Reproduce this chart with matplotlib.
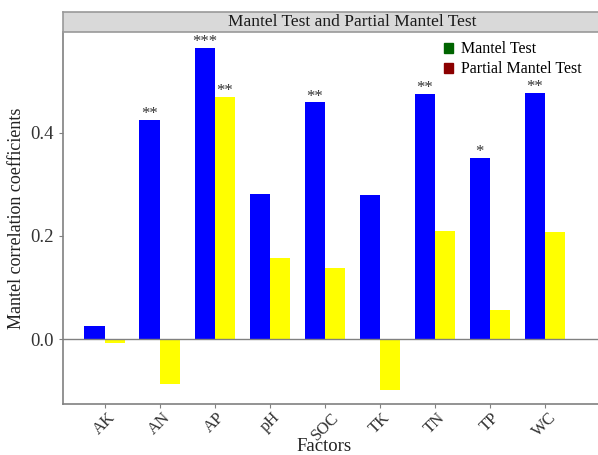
import numpy as np
import matplotlib.pyplot as plt
from matplotlib.patches import Patch

plt.rcParams['font.family'] = ['Liberation Serif', 'DejaVu Serif']

factors = ['AK', 'AN', 'AP', 'pH', 'SOC', 'TK', 'TN', 'TP', 'WC']
mantel = [0.025, 0.425, 0.565, 0.281, 0.459, 0.280, 0.476, 0.351, 0.478]
partial = [-0.008, -0.088, 0.470, 0.158, 0.138, -0.099, 0.210, 0.057, 0.208]
mantel_sig = ['', '**', '***', '', '**', '', '**', '*', '**']
partial_sig = ['', '', '**', '', '', '', '', '', '']

fig = plt.figure(figsize=(5.98, 4.55), dpi=100)
# panel runs past the right edge (the reference is cropped there)
ax = fig.add_axes([0.105, 0.112, 0.967, 0.818])

x = np.arange(len(factors))
w = 0.37
ax.bar(x - w/2, mantel, w, color='#0000ff', edgecolor='none')
ax.bar(x + w/2, partial, w, color='#ffff00', edgecolor='none')
ax.axhline(0, color='#808080', lw=1)

for i in range(len(factors)):
    if mantel_sig[i]:
        ax.text(x[i] - w/2, mantel[i] - 0.004, mantel_sig[i], ha='center', va='bottom',
                fontsize=12, color='#333333')
    if partial_sig[i]:
        ax.text(x[i] + w/2, partial[i] - 0.004, partial_sig[i], ha='center', va='bottom',
                fontsize=12, color='#333333')

ax.set_xlim(-0.764, 9.745)
ax.set_ylim(-0.126, 0.596)
ax.set_yticks([0.0, 0.2, 0.4])
ax.set_yticklabels(['0.0', '0.2', '0.4'])
ax.set_xticks(x)
ax.set_xticklabels(factors, rotation=45, ha='center', va='top')
ax.tick_params(axis='both', colors='#808080', labelcolor='#333333', length=3)
ax.tick_params(axis='y', labelsize=13.5)
ax.tick_params(axis='x', labelsize=12, pad=1)
for s in ['top', 'right']:
    ax.spines[s].set_visible(False)
for s in ['left', 'bottom']:
    ax.spines[s].set_color('#808080')
    ax.spines[s].set_linewidth(1.2)

ax.set_xlabel('Factors', fontsize=13.5, color='#222222')
ax.xaxis.set_label_coords((324 - 63) / 578, -(446 - 404) / 372)
ax.xaxis.label.set_va('center')
ax.set_ylabel('Mantel correlation coefficients', fontsize=13, color='#222222', labelpad=4)

handles = [Patch(color='#006400', label='Mantel Test'),
           Patch(color='#8b0000', label='Partial Mantel Test')]
ax.legend(handles=handles, loc='upper left', bbox_to_anchor=((434 - 63) / 578, 1.0), frameon=False,
          fontsize=11.5, handlelength=0.6, handleheight=0.6, handletextpad=0.5,
          labelspacing=0.25, borderaxespad=0.2)

strip = fig.add_axes([0.105, 0.93, 0.967, 0.044])
strip.set_facecolor('#d9d9d9')
strip.set_xticks([])
strip.set_yticks([])
for s in strip.spines.values():
    s.set_color('#999999')
    s.set_linewidth(1.2)
strip.text(0.5, 0.5, 'Mantel Test and Partial Mantel Test', ha='center', va='center',
           fontsize=12.5, color='#1a1a1a', transform=strip.transAxes)

fig.savefig('out.png', dpi=100)
